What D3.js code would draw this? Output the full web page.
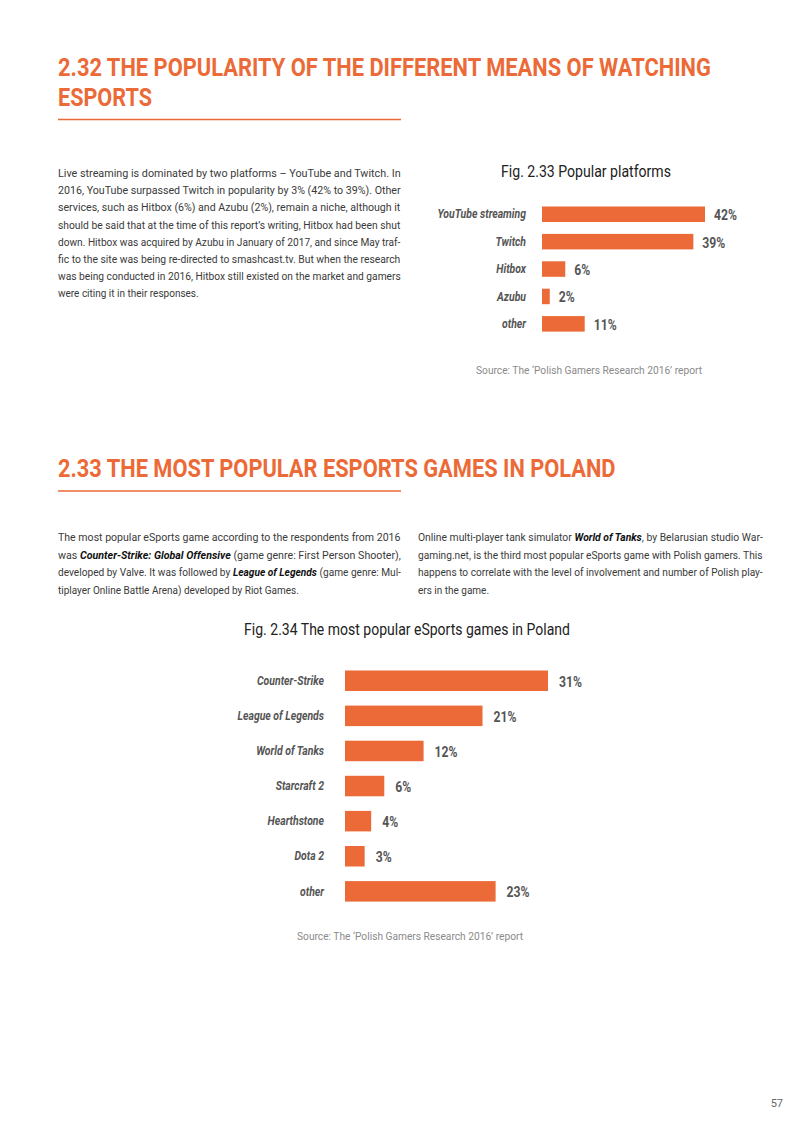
<!DOCTYPE html>
<html>
<head>
<meta charset="utf-8">
<script src="https://cdn.jsdelivr.net/npm/d3@7"></script>
<style>
  body { margin: 0; background: #fff; }
  text { font-family: Roboto, "Noto Sans", sans-serif; }
</style>
</head>
<body>
<script>
// data
var platforms = ['YouTube streaming', 'Twitch', 'Hitbox', 'Azubu', 'other'];
var platformShares = [42, 39, 6, 2, 11];

var games = ['Counter-Strike', 'League of Legends', 'World of Tanks', 'Starcraft 2', 'Hearthstone', 'Dota 2', 'other'];
var gameShares = [31, 21, 12, 6, 4, 3, 23];

var headings = [
  ['2.32 THE POPULARITY OF THE DIFFERENT MEANS OF WATCHING', 'ESPORTS'],
  ['2.33 THE MOST POPULAR ESPORTS GAMES IN POLAND']
];
var figTitles = ['Fig. 2.33 Popular platforms', 'Fig. 2.34 The most popular eSports games in Poland'];
var sourceNote = "Source: The \u2018Polish Gamers Research 2016\u2019 report";

// paragraph lines, [text, bold italic] pieces
var para1 = [
  [['Live streaming is dominated by two platforms \u2013 YouTube and Twitch. In']],
  [['2016, YouTube surpassed Twitch in popularity by 3% (42% to 39%). Other']],
  [['services, such as Hitbox (6%) and Azubu (2%), remain a niche, although it']],
  [['should be said that at the time of this report\u2019s writing, Hitbox had been shut']],
  [['down. Hitbox was acquired by Azubu in January of 2017, and since May traf-']],
  [['fic to the site was being re-directed to smashcast.tv. But when the research']],
  [['was being conducted in 2016, Hitbox still existed on the market and gamers']],
  [['were citing it in their responses.']]
];
var para2 = [
  [['The most popular eSports game according to the respondents from 2016']],
  [['was '], ['Counter-Strike: Global Offensive', 1], [' (game genre: First Person Shooter),']],
  [['developed by Valve. It was followed by '], ['League of Legends', 1], [' (game genre: Mul-']],
  [['tiplayer Online Battle Arena) developed by Riot Games.']]
];
var para3 = [
  [['Online multi-player tank simulator '], ['World of Tanks', 1], [', by Belarusian studio War-']],
  [['gaming.net, is the third most popular eSports game with Polish gamers. This']],
  [['happens to correlate with the level of involvement and number of Polish play-']],
  [['ers in the game.']]
];

var orange = '#ec6a37';
var K = 0.87; // roboto -> condensed look

var svg = d3.select('body').append('svg')
  .attr('width', 800)
  .attr('height', 1131)
  .style('background-color', '#fff');

// narrow a text horizontally around its anchor point
var squeezeAt = function(node, x, y, k) {
  d3.select(node)
    .attr('x', 0).attr('y', 0)
    .attr('transform', 'translate(' + x + ',' + y + ') scale(' + k + ',1)');
};
var fitAt = function(node, x, y, w) {
  squeezeAt(node, x, y, w / node.getComputedTextLength());
};

// headings
var drawHeading = function(lines, y, widths) {
  lines.forEach(function(l, i) {
    var t = svg.append('text')
      .attr('fill', orange)
      .style('font-size', '25.5px')
      .style('font-weight', 'bold')
      .text(l);
    fitAt(t.node(), 58, y + i * 29.5, widths[i]);
  });
  var ly = y + (lines.length - 1) * 29.5 + 14;
  svg.append('line')
    .attr('x1', 58).attr('x2', 401)
    .attr('y1', ly).attr('y2', ly)
    .attr('stroke', orange).attr('stroke-width', 1.5);
};
drawHeading(headings[0], 76, [653, 94]);
drawHeading(headings[1], 477, [558]);

// paragraphs: each piece is its own text, justified lines stretched to the column
var drawPara = function(lines, x, y, w, step) {
  lines.forEach(function(pieces, i) {
    var nodes = pieces.map(function(p) {
      return svg.append('text')
        .attr('fill', p[1] ? '#111' : '#3a3a3a')
        .style('font-size', '11.5px')
        .style('font-weight', p[1] ? 'bold' : null)
        .style('font-style', p[1] ? 'italic' : null)
        .style('white-space', 'pre')
        .text(p[0]).node();
    });
    var lens = nodes.map(function(n) { return n.getComputedTextLength(); });
    var total = d3.sum(lens);
    var k = i < lines.length - 1 ? w / total : K;
    var cx = x;
    nodes.forEach(function(n, j) {
      squeezeAt(n, cx, y + i * step, k);
      cx += lens[j] * k;
    });
  });
};
drawPara(para1, 58, 177, 343, 17.2);
drawPara(para2, 58, 541, 343, 17.6);
drawPara(para3, 418, 541, 345, 17.6);

// figure titles and sources
var centered = function(str, x, y, size, color, w) {
  var t = svg.append('text')
    .attr('text-anchor', 'middle')
    .attr('fill', color)
    .style('font-size', size)
    .text(str);
  fitAt(t.node(), x, y, w);
};
centered(figTitles[0], 586, 177, '16px', '#222', 170);
centered(figTitles[1], 407, 635, '16px', '#222', 326);
centered(sourceNote, 589, 374, '11.5px', '#8a8a8a', 226);
centered(sourceNote, 410, 940, '11.5px', '#8a8a8a', 226);

// bar chart
var barChart = function(cats, vals, opts) {
  var y = d3.scaleBand()
    .domain(cats)
    .range([opts.top, opts.bottom])
    .paddingInner(opts.pad);
  var x = d3.scaleLinear()
    .domain([0, opts.max])
    .range([opts.left, opts.right]);
  var g = svg.append('g');
  var data = cats.map(function(c, i) { return { cat: c, v: vals[i] }; });

  g.selectAll('rect').data(data).enter().append('rect')
    .attr('x', x(0))
    .attr('y', function(d) { return y(d.cat); })
    .attr('width', function(d) { return x(d.v) - x(0); })
    .attr('height', y.bandwidth())
    .attr('fill', orange);

  g.selectAll('.cat').data(data).enter().append('text')
    .attr('class', 'cat')
    .attr('dy', '0.35em')
    .attr('text-anchor', 'end')
    .attr('fill', '#555')
    .style('font-size', opts.catSize)
    .style('font-weight', 'bold')
    .style('font-style', 'italic')
    .text(function(d) { return d.cat; })
    .each(function(d) {
      squeezeAt(this, opts.labelX, y(d.cat) + y.bandwidth() / 2, K);
    });

  g.selectAll('.val').data(data).enter().append('text')
    .attr('class', 'val')
    .attr('dy', '0.35em')
    .attr('fill', '#555')
    .style('font-size', opts.valSize)
    .style('font-weight', 'bold')
    .text(function(d) { return d.v + '%'; })
    .each(function(d) {
      squeezeAt(this, x(d.v) + opts.gap, y(d.cat) + y.bandwidth() / 2 + 1, K);
    });
};

barChart(platforms, platformShares, {
  top: 206.5, bottom: 331.6, pad: 0.434,
  max: 42, left: 542, right: 705,
  labelX: 526, gap: 9, catSize: '12px', valSize: '14px'
});

barChart(games, gameShares, {
  top: 670.5, bottom: 901.6, pad: 0.416,
  max: 31, left: 345, right: 548,
  labelX: 324, gap: 11, catSize: '12px', valSize: '14px'
});

// page number
svg.append('text')
  .attr('x', 783).attr('y', 1107)
  .attr('text-anchor', 'end')
  .attr('fill', '#666')
  .style('font-size', '11px')
  .text('57');
</script>
</body>
</html>
